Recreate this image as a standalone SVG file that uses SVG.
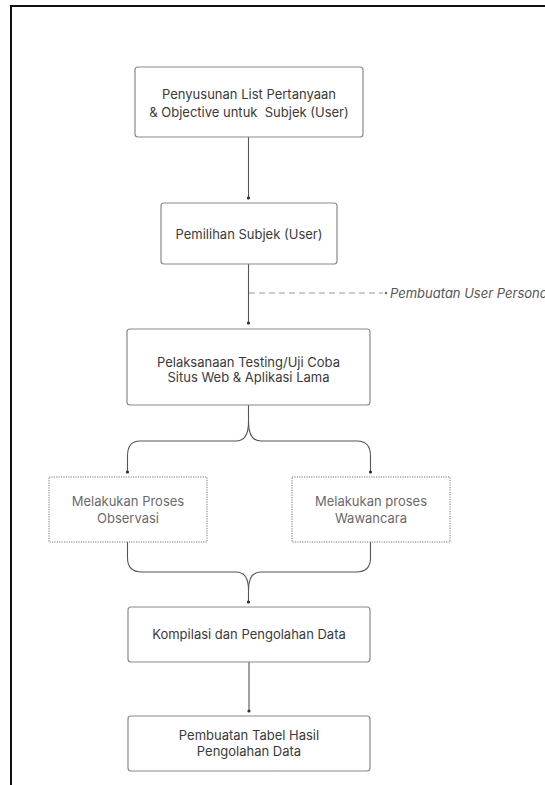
<svg xmlns="http://www.w3.org/2000/svg" width="545" height="785" viewBox="0 0 545 785">
<defs>
<marker id="dot" viewBox="0 0 4 4" refX="2" refY="2" markerWidth="4" markerHeight="4" markerUnits="userSpaceOnUse">
<circle cx="2" cy="2" r="1.6" fill="#333"/>
</marker>
<style>
.box{fill:#fff;stroke:#8a8a8a;stroke-width:1.2}
.dbox{fill:#fff;stroke:#777;stroke-width:1;stroke-dasharray:1.2 1.2}
.t{font-family:Inter,"Liberation Sans",sans-serif;font-size:13px;fill:#3a3a3a;text-anchor:middle}
.tl{font-family:Inter,"Liberation Sans",sans-serif;font-size:13px;fill:#6a6a6a;text-anchor:middle}
.c{fill:none;stroke:#555;stroke-width:1.1}
</style>
</defs>
<rect width="545" height="785" fill="#fff"/>
<path d="M11,785 V6 H545" fill="none" stroke="#111" stroke-width="2"/>

<g id="connectors">
<path class="c" d="M248.5,137 V198" marker-end="url(#dot)"/>
<path class="c" d="M248.5,264 V323" marker-end="url(#dot)"/>
<path d="M249,293 H383" fill="none" stroke="#999" stroke-width="1.1" stroke-dasharray="6 4"/>
<circle cx="386" cy="293" r="1.2" fill="#666"/>
<path class="c" d="M248.5,405 V422 Q248.5,441 236,441 H140 Q127.5,441 127.5,456 V472" marker-end="url(#dot)"/>
<path class="c" d="M248.5,422 Q248.5,441 261,441 H357 Q370.5,441 370.5,456 V472" marker-end="url(#dot)"/>
<path class="c" d="M127.5,542 V558 Q127.5,572 142,572 H236 Q248.5,572 248.5,590 V602" marker-end="url(#dot)"/>
<path class="c" d="M370.5,542 V558 Q370.5,572 356,572 H261 Q248.5,572 248.5,590" />
<path class="c" d="M249,662 V711" marker-end="url(#dot)"/>
</g>

<g id="n1">
<rect class="box" x="135" y="67" width="228" height="70" rx="3"/>
<text class="t" x="249" y="99">Penyusunan List Pertanyaan</text>
<text class="t" x="249" y="117" xml:space="preserve">&amp; Objective untuk  Subjek (User)</text>
</g>
<g id="n2">
<rect class="box" x="161" y="203" width="176" height="61" rx="3"/>
<text class="t" x="249" y="238.5">Pemilihan Subjek (User)</text>
</g>
<g id="n-persona">
<text x="390" y="297.5" font-family="Inter,'Liberation Sans',sans-serif" font-size="13" font-style="italic" fill="#555">Pembuatan User Persona</text>
</g>
<g id="n3">
<rect class="box" x="127" y="329" width="243" height="76" rx="3"/>
<text class="t" x="248.5" y="366.5">Pelaksanaan Testing/Uji Coba</text>
<text class="t" x="248.5" y="382">Situs Web &amp; Aplikasi Lama</text>
</g>
<g id="n4">
<rect class="dbox" x="49" y="477" width="158" height="65"/>
<text class="tl" x="128" y="506">Melakukan Proses</text>
<text class="tl" x="128" y="522.5">Observasi</text>
</g>
<g id="n5">
<rect class="dbox" x="292" y="477" width="158" height="65"/>
<text class="tl" x="371" y="506">Melakukan proses</text>
<text class="tl" x="371" y="522.5">Wawancara</text>
</g>
<g id="n6">
<rect class="box" x="128" y="607" width="242" height="55" rx="3"/>
<text class="t" x="249" y="639">Kompilasi dan Pengolahan Data</text>
</g>
<g id="n7">
<rect class="box" x="128" y="716" width="242" height="55" rx="3"/>
<text class="t" x="249" y="740">Pembuatan Tabel Hasil</text>
<text class="t" x="249" y="756">Pengolahan Data</text>
</g>
</svg>
